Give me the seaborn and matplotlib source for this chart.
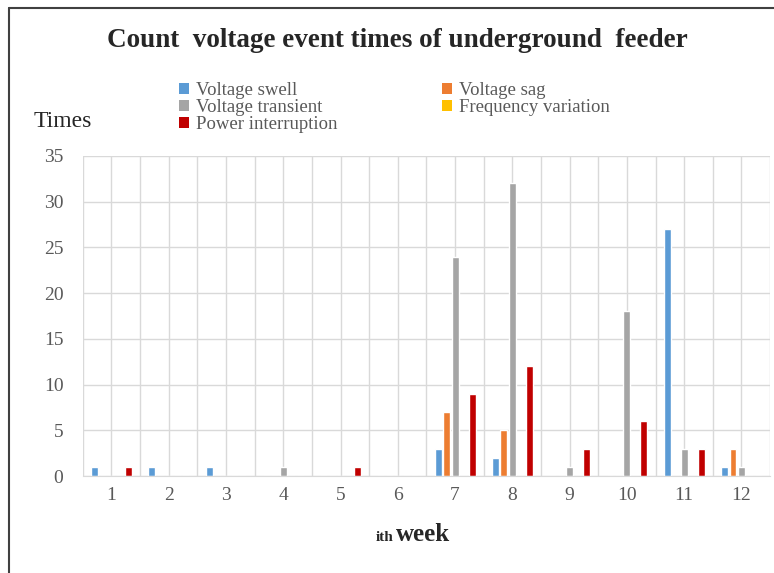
import numpy as np
import pandas as pd
import matplotlib
matplotlib.use("Agg")
import matplotlib.pyplot as plt
import seaborn as sns
from matplotlib.patches import Patch
from matplotlib.lines import Line2D

# data
weeks = ["1", "2", "3", "4", "5", "6", "7", "8", "9", "10", "11", "12"]
events = ["Voltage swell", "Voltage sag", "Voltage transient",
          "Frequency variation", "Power interruption"]
swell        = [1, 1, 1, 0, 0, 0, 3, 2, 0, 0, 27, 1]
sag          = [0, 0, 0, 0, 0, 0, 7, 5, 0, 0, 0, 3]
transient    = [0, 0, 0, 1, 0, 0, 24, 32, 1, 18, 3, 1]
freq_var     = [0, 0, 0, 0, 0, 0, 0, 0, 0, 0, 0, 0]
interruption = [1, 0, 0, 0, 1, 0, 9, 12, 3, 6, 3, 0]
colors = ["#5B9BD5", "#ED7D31", "#A5A5A5", "#FFC000", "#C00000"]

series = [swell, sag, transient, freq_var, interruption]
df = pd.DataFrame({
    "week": np.tile(weeks, len(events)),
    "event": np.repeat(events, len(weeks)),
    "times": np.concatenate(series),
})

sns.set_style("white")
plt.rcParams["font.family"] = ["Liberation Serif", "DejaVu Serif"]

fig = plt.figure(figsize=(7.74, 5.73), dpi=100)
ax = fig.add_axes([0.107, 0.169, 0.888, 0.559])

sns.barplot(data=df, x="week", y="times", hue="event", order=weeks,
            hue_order=events, palette=colors, width=0.74, gap=0.18,
            errorbar=None, ax=ax, legend=False, saturation=1)

ax.set_xlim(-0.5, 11.5)
ax.set_ylim(0, 35)
ax.set_yticks(range(0, 36, 5))
ax.set_xticks(np.arange(-0.5, 12, 1.0), minor=True)
ax.grid(True, which="both", color="#D9D9D9", lw=1)
ax.set_axisbelow(True)
for s in ["top", "right", "left"]:
    ax.spines[s].set_visible(False)
ax.spines["bottom"].set_color("#D9D9D9")
ax.tick_params(axis="both", which="both", length=0, labelsize=14,
               labelcolor="#595959")
ax.tick_params(axis="y", pad=14)
ax.tick_params(axis="x", pad=8)

ax.set_xlabel("")
ax.set_ylabel("")
fig.text(0.508, 0.055, "ith", fontsize=11, fontweight="bold", ha="right",
         va="baseline")
fig.text(0.511, 0.055, "week", fontsize=18, fontweight="bold", ha="left",
         va="baseline")
fig.text(0.043, 0.779, "Times", fontsize=17, ha="left", va="baseline")

fig.text(0.514, 0.930, "Count  voltage event times of underground  feeder",
         fontsize=19.5, fontweight="bold", ha="center", va="center")

# legend in row order: swell, sag / transient, freq / interruption
order = [0, 2, 4, 1, 3]
handles = [Patch(facecolor=colors[i], edgecolor="none") for i in order]
labels = [events[i] for i in order]
leg = fig.legend(handles, labels, ncol=2, loc="upper left",
                 bbox_to_anchor=(0.231, 0.857), frameon=False,
                 fontsize=13.5, handlelength=0.55, handleheight=0.55,
                 handletextpad=0.35, columnspacing=5.6, labelspacing=0.0,
                 borderaxespad=0, borderpad=0)
for t in leg.get_texts():
    t.set_color("#595959")

# outer frame (left and top edges visible in the reference)
fig.add_artist(Line2D([0.011, 0.011], [0.0, 0.986], color="#404040", lw=1.5))
fig.add_artist(Line2D([0.011, 1.0], [0.986, 0.986], color="#404040", lw=1.5))

fig.savefig("out.png", dpi=100)
